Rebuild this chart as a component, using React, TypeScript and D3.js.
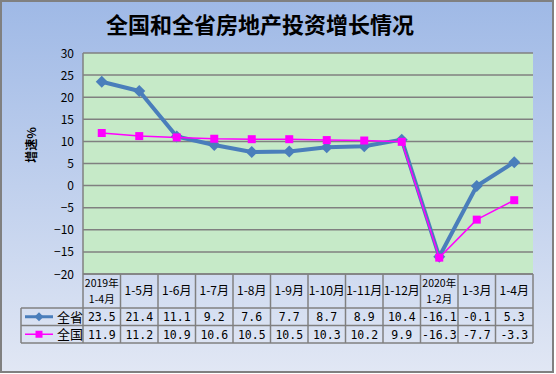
import React, { useRef, useEffect } from "react";
import * as d3 from "d3";

const categories = [
  "2019年\n1-4月", "1-5月", "1-6月", "1-7月", "1-8月", "1-9月",
  "1-10月", "1-11月", "1-12月", "2020年\n1-2月", "1-3月", "1-4月",
];
const province = [23.5, 21.4, 11.1, 9.2, 7.6, 7.7, 8.7, 8.9, 10.4, -16.1, -0.1, 5.3];
const national = [11.9, 11.2, 10.9, 10.6, 10.5, 10.5, 10.3, 10.2, 9.9, -16.3, -7.7, -3.3];
const yTicks = [30, 25, 20, 15, 10, 5, 0, -5, -10, -15, -20];

const series = [
  { name: "全省", values: province, color: "#4a7ebb", width: 4, marker: "diamond" },
  { name: "全国", values: national, color: "#ff00ff", width: 1.5, marker: "square" },
];

const App = () => {
  const ref = useRef<SVGSVGElement>(null);

  useEffect(() => {
    const svg = d3.select(ref.current);
    svg.selectAll("*").remove();

    const left = 83, right = 533, top = 53, bottom = 274;
    const x = d3.scaleBand().domain(categories.map((_, i) => String(i))).range([left, right]);
    const y = d3.scaleLinear().domain([-20, 30]).range([bottom, top]);
    const font = "'Noto Sans CJK SC', 'DejaVu Sans', sans-serif";
    const cxOf = (i: number) => (x(String(i)) as number) + x.bandwidth() / 2;

    const defs = svg.append("defs");
    const grad = defs.append("linearGradient").attr("id", "bg").attr("x1", 0).attr("y1", 0).attr("x2", 0).attr("y2", 1);
    grad.append("stop").attr("offset", "0%").attr("stop-color", "#9fb9e6");
    grad.append("stop").attr("offset", "100%").attr("stop-color", "#e1e7f4");

    svg.append("rect").attr("x", 1).attr("y", 1).attr("width", 552).attr("height", 371)
      .attr("fill", "url(#bg)").attr("stroke", "#808080").attr("stroke-width", 2);

    svg.append("text").attr("x", 260).attr("y", 33).attr("text-anchor", "middle")
      .attr("font-family", font).attr("font-size", 22).attr("font-weight", "bold")
      .text("全国和全省房地产投资增长情况");

    // plot area
    svg.append("rect").attr("x", left).attr("y", top).attr("width", right - left).attr("height", bottom - top)
      .attr("fill", "#c6eac8");

    svg.append("g").selectAll("line").data(yTicks).join("line")
      .attr("x1", left).attr("x2", right)
      .attr("y1", (d) => y(d)).attr("y2", (d) => y(d))
      .attr("stroke", "#808080").attr("stroke-width", 1.5);
    svg.append("line").attr("x1", left).attr("x2", left).attr("y1", top).attr("y2", bottom)
      .attr("stroke", "#808080").attr("stroke-width", 1.5);

    svg.append("g").selectAll("text").data(yTicks).join("text")
      .attr("x", 74).attr("y", (d) => y(d) + 4.5).attr("text-anchor", "end")
      .attr("font-family", font).attr("font-size", 12)
      .text((d) => (d < 0 ? "\u2212" + Math.abs(d) : String(d)));

    svg.append("text").attr("transform", "translate(36,145) rotate(-90)").attr("text-anchor", "middle")
      .attr("font-family", font).attr("font-size", 12).attr("font-weight", "bold").text("增速%");

    // table
    const rows = [bottom, 308, 325.5, 343];
    const tg = svg.append("g").attr("stroke", "#808080").attr("stroke-width", 1.5);
    rows.forEach((ry, i) => {
      tg.append("line").attr("x1", i === 0 ? left : 21).attr("x2", right).attr("y1", ry).attr("y2", ry);
    });
    tg.append("line").attr("x1", 21).attr("x2", 21).attr("y1", 308).attr("y2", 343);
    for (let i = 0; i <= categories.length; i++) {
      const cx = left + i * x.bandwidth();
      tg.append("line").attr("x1", cx).attr("x2", cx).attr("y1", bottom).attr("y2", 343);
    }

    categories.forEach((c, i) => {
      const lines = c.split("\n");
      const fs = lines.length > 1 ? 10.5 : 12;
      lines.forEach((ln, j) => {
        svg.append("text").attr("text-anchor", "middle").attr("font-family", font).attr("font-size", fs)
          .attr("x", cxOf(i)).attr("y", 291 + 4 + (j - (lines.length - 1) / 2) * 15.5).text(ln);
      });
    });

    const drawMarker = (g: any, s: any, cx: number, cy: number, size: number) => {
      if (s.marker === "diamond") {
        const h = size / 2;
        g.append("path").attr("d", `M${cx},${cy - h}L${cx + h},${cy}L${cx},${cy + h}L${cx - h},${cy}Z`)
          .attr("fill", s.color);
      } else {
        g.append("rect").attr("x", cx - size / 2).attr("y", cy - size / 2).attr("width", size).attr("height", size)
          .attr("fill", s.color);
      }
    };

    series.forEach((s, si) => {
      const ry = (rows[si + 1] + rows[si + 2]) / 2;
      svg.append("line").attr("x1", 25).attr("x2", 53).attr("y1", ry).attr("y2", ry)
        .attr("stroke", s.color).attr("stroke-width", s.width === 4 ? 3 : 1.5);
      drawMarker(svg, s, 39, ry, s.marker === "diamond" ? 9 : 7);
      svg.append("text").attr("x", 57).attr("y", ry + 5).attr("font-family", font).attr("font-size", 13).text(s.name);
      s.values.forEach((v, i) => {
        svg.append("text").attr("x", cxOf(i)).attr("y", ry + 4.5)
          .attr("text-anchor", "middle").attr("font-family", "'DejaVu Sans Mono', monospace").attr("font-size", 11.5)
          .text(v.toFixed(1));
      });
    });

    // lines
    series.forEach((s) => {
      const line = d3.line<number>().x((_, i) => cxOf(i)).y((d) => y(d));
      svg.append("path").datum(s.values).attr("d", line).attr("fill", "none")
        .attr("stroke", s.color).attr("stroke-width", s.width).attr("stroke-linejoin", "round");
      const g = svg.append("g");
      s.values.forEach((v, i) => {
        drawMarker(g, s, cxOf(i), y(v), s.marker === "diamond" ? 12 : 8);
      });
    });
  }, []);

  return <svg ref={ref} width={556} height={374} style={{ position: "absolute", left: 0, top: 0 }} />;
};

export default App;
